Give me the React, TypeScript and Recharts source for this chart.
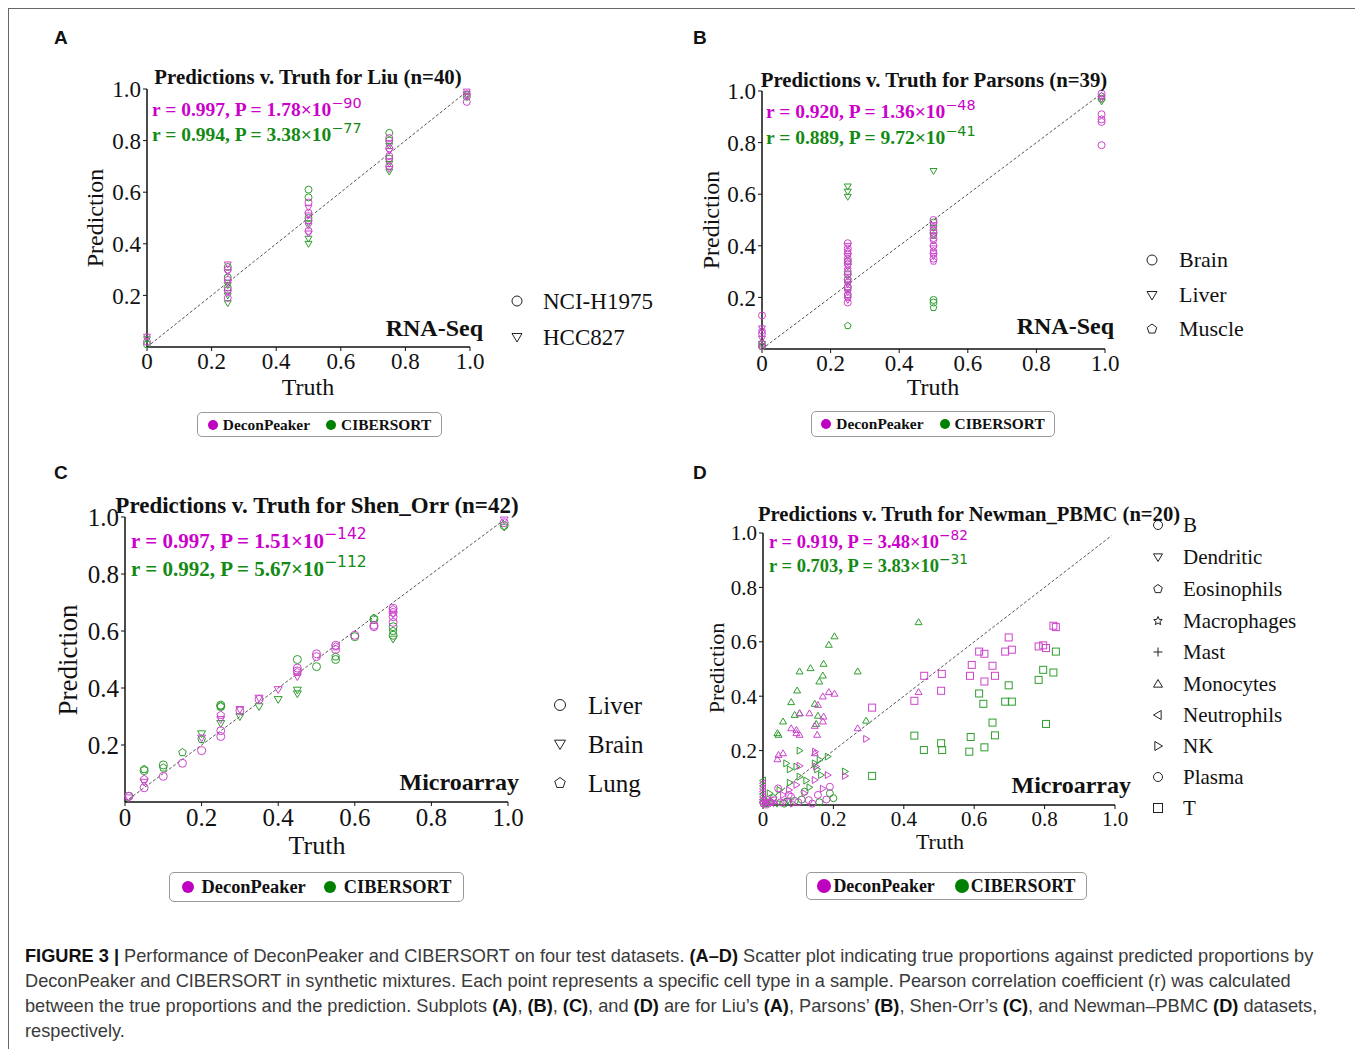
import React from "react";
import { ScatterChart, Scatter, XAxis, YAxis, ReferenceLine } from "recharts";

type Pt = [number, number];
type Kind = "circle" | "triDown" | "triUp" | "triLeft" | "triRight" | "pentagon" | "star" | "plus" | "square";

const MAGENTA = "#cc44cc";
const GREEN = "#2e9e2e";
const SERIF = "'Liberation Serif', 'Times New Roman', serif";

// ---- Panel A: Liu (truth, prediction) ----
const liuDeconNCI: Pt[] = [[0, 0.02], [0.25, 0.19], [0.25, 0.22], [0.25, 0.26], [0.25, 0.3], [0.5, 0.45], [0.5, 0.49], [0.5, 0.52], [0.5, 0.56], [0.75, 0.7], [0.75, 0.74], [0.75, 0.77], [0.75, 0.81], [0.99, 0.95], [0.99, 0.98]];
const liuDeconHCC: Pt[] = [[0, 0.04], [0.25, 0.21], [0.25, 0.25], [0.25, 0.29], [0.25, 0.32], [0.5, 0.44], [0.5, 0.47], [0.5, 0.51], [0.5, 0.54], [0.75, 0.69], [0.75, 0.72], [0.75, 0.76], [0.75, 0.79], [0.99, 0.97], [0.99, 0.99]];
const liuCiberNCI: Pt[] = [[0, 0.01], [0.25, 0.23], [0.25, 0.27], [0.25, 0.31], [0.5, 0.5], [0.5, 0.58], [0.5, 0.61], [0.75, 0.73], [0.75, 0.8], [0.75, 0.83], [0.99, 0.97]];
const liuCiberHCC: Pt[] = [[0, 0.03], [0.25, 0.17], [0.25, 0.2], [0.25, 0.24], [0.5, 0.4], [0.5, 0.42], [0.5, 0.48], [0.75, 0.68], [0.75, 0.71], [0.75, 0.78], [0.99, 0.98]];

// ---- Panel B: Parsons ----
const parsonsDeconBrain: Pt[] = [[0, 0.13], [0, 0.06], [0, 0.02], [0.25, 0.41], [0.25, 0.39], [0.25, 0.37], [0.25, 0.35], [0.25, 0.33], [0.25, 0.3], [0.25, 0.27], [0.25, 0.24], [0.25, 0.21], [0.25, 0.18], [0.5, 0.5], [0.5, 0.46], [0.5, 0.43], [0.5, 0.4], [0.5, 0.37], [0.5, 0.35], [0.99, 0.99], [0.99, 0.91], [0.99, 0.89], [0.99, 0.88], [0.99, 0.79]];
const parsonsDeconLiver: Pt[] = [[0, 0.08], [0, 0.04], [0.25, 0.4], [0.25, 0.36], [0.25, 0.32], [0.25, 0.28], [0.25, 0.25], [0.25, 0.22], [0.25, 0.19], [0.5, 0.48], [0.5, 0.44], [0.5, 0.39], [0.5, 0.36], [0.99, 0.97]];
const parsonsDeconMuscle: Pt[] = [[0, 0.07], [0, 0.01], [0.25, 0.38], [0.25, 0.34], [0.25, 0.31], [0.25, 0.26], [0.25, 0.23], [0.25, 0.2], [0.5, 0.47], [0.5, 0.42], [0.5, 0.38], [0.5, 0.34], [0.99, 0.98]];
const parsonsCiberBrain: Pt[] = [[0, 0.01], [0.25, 0.34], [0.25, 0.29], [0.25, 0.24], [0.5, 0.49], [0.5, 0.45], [0.5, 0.19], [0.5, 0.18], [0.99, 0.97]];
const parsonsCiberLiver: Pt[] = [[0, 0.02], [0.25, 0.63], [0.25, 0.61], [0.25, 0.59], [0.5, 0.69], [0.5, 0.47], [0.99, 0.96]];
const parsonsCiberMuscle: Pt[] = [[0, 0.01], [0.25, 0.09], [0.25, 0.27], [0.25, 0.21], [0.5, 0.44], [0.5, 0.16], [0.99, 0.98]];

// ---- Panel C: Shen_Orr ----
const shenDeconLiver: Pt[] = [[0.01, 0.02], [0.05, 0.05], [0.1, 0.09], [0.15, 0.136], [0.2, 0.18], [0.25, 0.23], [0.25, 0.25], [0.3, 0.32], [0.35, 0.36], [0.45, 0.47], [0.45, 0.46], [0.5, 0.52], [0.5, 0.51], [0.55, 0.55], [0.55, 0.535], [0.6, 0.585], [0.65, 0.62], [0.65, 0.615], [0.7, 0.68], [0.7, 0.665], [0.7, 0.65], [0.7, 0.63], [0.99, 0.98]];
const shenDeconBrain: Pt[] = [[0.01, 0.015], [0.05, 0.07], [0.2, 0.225], [0.25, 0.29], [0.3, 0.325], [0.35, 0.365], [0.4, 0.395], [0.45, 0.44], [0.7, 0.66], [0.99, 0.99]];
const shenDeconLung: Pt[] = [[0.05, 0.08], [0.25, 0.305], [0.45, 0.455], [0.55, 0.545], [0.7, 0.675]];
const shenCiberLiver: Pt[] = [[0.01, 0.02], [0.05, 0.11], [0.1, 0.13], [0.25, 0.34], [0.25, 0.335], [0.45, 0.5], [0.5, 0.475], [0.55, 0.5], [0.6, 0.58], [0.65, 0.64], [0.7, 0.615], [0.7, 0.585], [0.99, 0.97]];
const shenCiberBrain: Pt[] = [[0.2, 0.24], [0.25, 0.276], [0.3, 0.3], [0.35, 0.335], [0.4, 0.36], [0.45, 0.393], [0.45, 0.38], [0.7, 0.572], [0.99, 0.965]];
const shenCiberLung: Pt[] = [[0.05, 0.115], [0.1, 0.12], [0.15, 0.174], [0.2, 0.22], [0.25, 0.335], [0.55, 0.51], [0.65, 0.645], [0.7, 0.6]];

// ---- Panel D: Newman_PBMC ----
const newmanDeconT: Pt[] = [[0.31, 0.358], [0.43, 0.383], [0.458, 0.475], [0.508, 0.482], [0.506, 0.42], [0.588, 0.475], [0.593, 0.515], [0.614, 0.564], [0.629, 0.454], [0.629, 0.556], [0.652, 0.512], [0.659, 0.475], [0.688, 0.564], [0.698, 0.616], [0.707, 0.571], [0.783, 0.583], [0.796, 0.587], [0.804, 0.577], [0.825, 0.659], [0.832, 0.654]];
const newmanCiberT: Pt[] = [[0.31, 0.107], [0.43, 0.255], [0.457, 0.202], [0.506, 0.227], [0.509, 0.202], [0.586, 0.196], [0.59, 0.25], [0.614, 0.41], [0.626, 0.372], [0.629, 0.212], [0.652, 0.303], [0.659, 0.256], [0.698, 0.44], [0.688, 0.38], [0.707, 0.38], [0.783, 0.46], [0.796, 0.497], [0.804, 0.298], [0.825, 0.487], [0.832, 0.564]];
const newmanDeconMono: Pt[] = [[0.442, 0.415], [0.269, 0.282], [0.203, 0.409], [0.187, 0.415], [0.17, 0.399], [0.172, 0.325], [0.17, 0.307], [0.156, 0.368], [0.147, 0.291], [0.154, 0.258], [0.132, 0.337], [0.104, 0.337], [0.104, 0.258], [0.095, 0.276], [0.08, 0.282], [0.057, 0.19], [0.044, 0.184], [0.041, 0.168], [0.147, 0.19], [0.095, 0.264]];
const newmanCiberMono: Pt[] = [[0.442, 0.672], [0.203, 0.62], [0.187, 0.589], [0.172, 0.519], [0.17, 0.476], [0.16, 0.454], [0.156, 0.328], [0.147, 0.372], [0.135, 0.503], [0.104, 0.491], [0.097, 0.421], [0.08, 0.378], [0.09, 0.331], [0.104, 0.337], [0.057, 0.307], [0.041, 0.264], [0.044, 0.258], [0.269, 0.491], [0.293, 0.31], [0.151, 0.298]];
const newmanDeconNK: Pt[] = [[0.293, 0.243], [0.233, 0.107], [0.184, 0.11], [0.147, 0.092], [0.104, 0.144], [0.095, 0.074], [0.074, 0.055], [0.057, 0.037], [0.118, 0.043], [0.151, 0.141], [0.03, 0.01], [0.085, 0.005], [0.148, 0.196], [0.17, 0.06]];
const newmanCiberNK: Pt[] = [[0.104, 0.2], [0.066, 0.153], [0.076, 0.131], [0.095, 0.141], [0.147, 0.153], [0.154, 0.131], [0.184, 0.178], [0.233, 0.123], [0.165, 0.11], [0.123, 0.09], [0.076, 0.082], [0.132, 0.065], [0.047, 0.055], [0.019, 0.043], [0.161, 0.166], [0.104, 0.104]];
const newmanDeconB: Pt[] = [[0.043, 0.061], [0.19, 0.067], [0.156, 0.037], [0.073, 0.037], [0.13, 0.018], [0.02, 0.01], [0.1, 0.01], [0.18, 0.02]];
const newmanCiberB: Pt[] = [[0.118, 0.049], [0.19, 0.043], [0.2, 0.025], [0.029, 0.025], [0.16, 0.01], [0.09, 0.015]];
const newmanDeconPlasma: Pt[] = [[0.01, 0.02], [0.05, 0.01], [0.08, 0.03], [0.14, 0.005]];
const newmanCiberPlasma: Pt[] = [[0.02, 0.01], [0.06, 0.005], [0.11, 0.02]];
const newmanDeconNeut: Pt[] = [[0, 0.08], [0, 0.06], [0, 0.05], [0, 0.03], [0, 0.02], [0, 0.01]];
const newmanCiberNeut: Pt[] = [[0, 0.09], [0, 0.07], [0, 0.04], [0, 0.02]];
const newmanDeconEos: Pt[] = [[0, 0.005], [0.01, 0], [0.02, 0.01]];
const newmanCiberEos: Pt[] = [[0, 0.01], [0.01, 0.005]];
const newmanDeconMast: Pt[] = [[0.01, 0.01], [0.03, 0.005]];
const newmanCiberMast: Pt[] = [[0.02, 0.005]];
const newmanDeconMacro: Pt[] = [[0.005, 0.01]];
const newmanCiberMacro: Pt[] = [[0.01, 0.015]];
const newmanDeconDend: Pt[] = [[0.03, 0.02], [0.06, 0.01]];
const newmanCiberDend: Pt[] = [[0.04, 0.005], [0.07, 0.015]];

const ticksFull = [0, 0.2, 0.4, 0.6, 0.8, 1.0];
const ticksNoZero = [0.2, 0.4, 0.6, 0.8, 1.0];

const liuLegend: [Kind, string][] = [["circle", "NCI-H1975"], ["triDown", "HCC827"]];
const parsonsLegend: [Kind, string][] = [["circle", "Brain"], ["triDown", "Liver"], ["pentagon", "Muscle"]];
const shenLegend: [Kind, string][] = [["circle", "Liver"], ["triDown", "Brain"], ["pentagon", "Lung"]];
const newmanLegend: [Kind, string][] = [["circle", "B"], ["triDown", "Dendritic"], ["pentagon", "Eosinophils"], ["star", "Macrophages"], ["plus", "Mast"], ["triUp", "Monocytes"], ["triLeft", "Neutrophils"], ["triRight", "NK"], ["circle", "Plasma"], ["square", "T"]];

type Series = { data: Pt[]; color: string; kind: Kind };

function Marker({ cx, cy, kind, color, s }: { cx: number; cy: number; kind: Kind; color: string; s: number }) {
  const common = { fill: "none", stroke: color, strokeWidth: 1 };
  if (cx == null || cy == null) return null;
  if (kind === "circle") return <circle cx={cx} cy={cy} r={s} {...common} />;
  if (kind === "square") return <rect x={cx - s} y={cy - s} width={2 * s} height={2 * s} {...common} />;
  if (kind === "plus") return <path d={`M${cx - s},${cy}H${cx + s}M${cx},${cy - s}V${cy + s}`} {...common} />;
  let pts: number[][] = [];
  if (kind === "triDown") pts = [[cx - s, cy - s * 0.7], [cx + s, cy - s * 0.7], [cx, cy + s]];
  if (kind === "triUp") pts = [[cx - s, cy + s * 0.7], [cx + s, cy + s * 0.7], [cx, cy - s]];
  if (kind === "triLeft") pts = [[cx + s * 0.7, cy - s], [cx + s * 0.7, cy + s], [cx - s, cy]];
  if (kind === "triRight") pts = [[cx - s * 0.7, cy - s], [cx - s * 0.7, cy + s], [cx + s, cy]];
  if (kind === "pentagon") pts = [0, 1, 2, 3, 4].map((k) => { const a = (-90 + k * 72) * Math.PI / 180; return [cx + s * Math.cos(a), cy + s * Math.sin(a)]; });
  if (kind === "star") pts = Array.from({ length: 10 }, (_, k) => { const a = (-90 + k * 36) * Math.PI / 180; const r = k % 2 ? s * 0.45 : s; return [cx + r * Math.cos(a), cy + r * Math.sin(a)]; });
  return <polygon points={pts.map((p) => p.join(",")).join(" ")} {...common} />;
}

const fmt = (v: number) => (v === 0 ? "0" : v.toFixed(1));

function Panel({ box, xTicks, yTicks, font, series, diag, ms }: { box: number[]; xTicks: number[]; yTicks: number[]; font: number; series: Series[]; diag: number; ms: number }) {
  const [x0, y0, x1, y1] = box;
  const tick = { fontSize: font, fill: "#111", fontFamily: SERIF };
  return (
    <div style={{ position: "absolute", left: x0 - 80, top: y0 - 20 }}>
      <ScatterChart width={x1 - x0 + 100} height={y1 - y0 + 70} margin={{ top: 20, right: 20, left: 10, bottom: 10 }}>
        <XAxis type="number" dataKey="x" domain={[0, 1]} ticks={xTicks} interval={0} tickFormatter={fmt} height={40}
          axisLine={{ stroke: "#111", strokeWidth: 1.5 }} tickLine={{ stroke: "#111" }} tickSize={4} tickMargin={2} tick={tick} />
        <YAxis type="number" dataKey="y" domain={[0, 1]} ticks={yTicks} interval={0} tickFormatter={fmt} width={70}
          axisLine={{ stroke: "#111", strokeWidth: 1.5 }} tickLine={{ stroke: "#111" }} tickSize={4} tickMargin={2} tick={tick} />
        <ReferenceLine segment={[{ x: 0, y: 0 }, { x: diag, y: diag }]} stroke="#555" strokeDasharray="3 2" strokeWidth={1} />
        {series.map((s, i) => (
          <Scatter key={i} data={s.data.map(([x, y]) => ({ x, y }))} isAnimationActive={false}
            shape={(p: any) => <Marker cx={p.cx} cy={p.cy} kind={s.kind} color={s.color} s={ms} />} />
        ))}
      </ScatterChart>
    </div>
  );
}

function Txt({ x, y, size, bold, color = "#111", anchor = "start", rotate, family = SERIF, children }: any) {
  const tx = anchor === "middle" ? "-50%" : anchor === "end" ? "-100%" : "0";
  return (
    <div style={{ position: "absolute", left: x, top: y, transform: `translate(${tx}, -50%)${rotate ? ` rotate(${rotate}deg)` : ""}`,
      fontSize: size, fontWeight: bold ? 700 : 400, color, fontFamily: family, whiteSpace: "nowrap", lineHeight: 1 }}>
      {children}
    </div>
  );
}

function Stat({ x, y, size, color, r, p, e }: any) {
  return (
    <Txt x={x} y={y} size={size} bold color={color}>
      r = {r}, P = {p}×10<span style={{ fontSize: "0.74em", fontWeight: 400, fontFamily: "'DejaVu Sans', sans-serif", position: "relative", top: "-0.55em" }}>−{e}</span>
    </Txt>
  );
}

function ShapeLegend({ x, tx, ys, items, size, s }: { x: number; tx: number; ys: number[]; items: [Kind, string][]; size: number; s: number }) {
  return (
    <>
      {items.map(([k, label], i) => (
        <React.Fragment key={i}>
          <svg style={{ position: "absolute", left: x - 8, top: ys[i] - 8 }} width={16} height={16}>
            <Marker cx={8} cy={8} kind={k} color="#222" s={s} />
          </svg>
          <Txt x={tx} y={ys[i]} size={size}>{label}</Txt>
        </React.Fragment>
      ))}
    </>
  );
}

function MethodBox({ left, top, w, h, size, r, gap, between }: any) {
  const item = (c: string, label: string) => (
    <span style={{ display: "flex", alignItems: "center" }}>
      <span style={{ width: 2 * r, height: 2 * r, borderRadius: r, background: c, marginRight: gap }} />
      {label}
    </span>
  );
  return (
    <div style={{ position: "absolute", left, top, width: w, height: h, boxSizing: "border-box", border: "1px solid #999", borderRadius: 5,
      display: "flex", alignItems: "center", justifyContent: "center", gap: between, fontFamily: SERIF, fontWeight: 700, fontSize: size, color: "#111" }}>
      {item("#c000c0", "DeconPeaker")}
      {item("#008000", "CIBERSORT")}
    </div>
  );
}

const B = ({ children }: any) => <b style={{ color: "#111" }}>{children}</b>;

export default function App() {
  const capStyle: React.CSSProperties = { position: "absolute", left: 25, whiteSpace: "nowrap", fontSize: 18.2, color: "#3a3a3a", lineHeight: 1,
    fontFamily: "'Liberation Sans Narrow', 'Liberation Sans', sans-serif", transform: "translateY(-50%)" };
  return (
    <div style={{ position: "relative", width: 1355, height: 1049, overflow: "hidden", background: "#fff", fontFamily: SERIF }}>
      <style>{`body{margin:0;overflow:hidden}`}</style>
      <div style={{ position: "absolute", left: 8, top: 8, width: 1400, height: 1100, border: "1px solid #666" }} />

      {["A", "B", "C", "D"].map((l, i) => (
        <Txt key={l} x={i % 2 ? 693 : 54} y={i < 2 ? 37 : 472} size={19} bold family="'Liberation Sans', Arial, sans-serif">{l}</Txt>
      ))}

      {/* Panel A */}
      <Panel box={[147, 89, 470, 347]} xTicks={ticksFull} yTicks={ticksNoZero} font={23} diag={0.99} ms={3.5}
        series={[{ data: liuCiberNCI, color: GREEN, kind: "circle" }, { data: liuCiberHCC, color: GREEN, kind: "triDown" },
          { data: liuDeconNCI, color: MAGENTA, kind: "circle" }, { data: liuDeconHCC, color: MAGENTA, kind: "triDown" }]} />
      <Txt x={308} y={77} size={20.8} bold anchor="middle">Predictions v. Truth for Liu (n=40)</Txt>
      <Stat x={152} y={110} size={19.5} color="#cc00cc" r="0.997" p="1.78" e="90" />
      <Stat x={152} y={135} size={19.5} color="#138a13" r="0.994" p="3.38" e="77" />
      <Txt x={483} y={328} size={24} bold anchor="end">RNA-Seq</Txt>
      <Txt x={95} y={218} size={24} anchor="middle" rotate={-90}>Prediction</Txt>
      <Txt x={308} y={387} size={24} anchor="middle">Truth</Txt>
      <ShapeLegend x={517} tx={543} ys={[301, 337]} items={liuLegend} size={23} s={5} />
      <MethodBox left={197} top={412} w={245} h={25} size={15.4} r={5} gap={5} between={16} />

      {/* Panel B */}
      <Panel box={[762, 91, 1105, 349]} xTicks={ticksFull} yTicks={ticksNoZero} font={23} diag={0.99} ms={3.5}
        series={[{ data: parsonsCiberBrain, color: GREEN, kind: "circle" }, { data: parsonsCiberLiver, color: GREEN, kind: "triDown" },
          { data: parsonsCiberMuscle, color: GREEN, kind: "pentagon" }, { data: parsonsDeconBrain, color: MAGENTA, kind: "circle" },
          { data: parsonsDeconLiver, color: MAGENTA, kind: "triDown" }, { data: parsonsDeconMuscle, color: MAGENTA, kind: "pentagon" }]} />
      <Txt x={934} y={80} size={20.8} bold anchor="middle">Predictions v. Truth for Parsons (n=39)</Txt>
      <Stat x={766} y={112} size={19.5} color="#cc00cc" r="0.920" p="1.36" e="48" />
      <Stat x={766} y={138} size={19.5} color="#138a13" r="0.889" p="9.72" e="41" />
      <Txt x={1114} y={326} size={24} bold anchor="end">RNA-Seq</Txt>
      <Txt x={711} y={220} size={24} anchor="middle" rotate={-90}>Prediction</Txt>
      <Txt x={933} y={387} size={24} anchor="middle">Truth</Txt>
      <ShapeLegend x={1152} tx={1179} ys={[260, 295, 329]} items={parsonsLegend} size={22} s={5} />
      <MethodBox left={811} top={411} w={244} h={26} size={15.4} r={5} gap={5} between={16} />

      {/* Panel C */}
      <Panel box={[125, 517, 508, 802]} xTicks={ticksFull} yTicks={ticksNoZero} font={25} diag={0.99} ms={4}
        series={[{ data: shenCiberLiver, color: GREEN, kind: "circle" }, { data: shenCiberBrain, color: GREEN, kind: "triDown" },
          { data: shenCiberLung, color: GREEN, kind: "pentagon" }, { data: shenDeconLiver, color: MAGENTA, kind: "circle" },
          { data: shenDeconBrain, color: MAGENTA, kind: "triDown" }, { data: shenDeconLung, color: MAGENTA, kind: "pentagon" }]} />
      <Txt x={317} y={505} size={23} bold anchor="middle">Predictions v. Truth for Shen_Orr (n=42)</Txt>
      <Stat x={131} y={541} size={21} color="#cc00cc" r="0.997" p="1.51" e="142" />
      <Stat x={131} y={569} size={21} color="#138a13" r="0.992" p="5.67" e="112" />
      <Txt x={519} y={782} size={24} bold anchor="end">Microarray</Txt>
      <Txt x={68} y={660} size={27} anchor="middle" rotate={-90}>Prediction</Txt>
      <Txt x={317} y={846} size={26} anchor="middle">Truth</Txt>
      <ShapeLegend x={560} tx={588} ys={[705, 744, 783]} items={shenLegend} size={25} s={5.5} />
      <MethodBox left={169} top={872} w={295} h={30} size={18.4} r={6} gap={8} between={18} />

      {/* Panel D */}
      <Panel box={[763, 533, 1115, 805]} xTicks={ticksFull} yTicks={ticksNoZero} font={21} diag={0.99} ms={3.5}
        series={[{ data: newmanCiberT, color: GREEN, kind: "square" }, { data: newmanCiberMono, color: GREEN, kind: "triUp" },
          { data: newmanCiberNK, color: GREEN, kind: "triRight" }, { data: newmanCiberB, color: GREEN, kind: "circle" },
          { data: newmanCiberPlasma, color: GREEN, kind: "circle" }, { data: newmanCiberNeut, color: GREEN, kind: "triLeft" },
          { data: newmanCiberEos, color: GREEN, kind: "pentagon" }, { data: newmanCiberMast, color: GREEN, kind: "plus" },
          { data: newmanCiberMacro, color: GREEN, kind: "star" }, { data: newmanCiberDend, color: GREEN, kind: "triDown" },
          { data: newmanDeconT, color: MAGENTA, kind: "square" }, { data: newmanDeconMono, color: MAGENTA, kind: "triUp" },
          { data: newmanDeconNK, color: MAGENTA, kind: "triRight" }, { data: newmanDeconB, color: MAGENTA, kind: "circle" },
          { data: newmanDeconPlasma, color: MAGENTA, kind: "circle" }, { data: newmanDeconNeut, color: MAGENTA, kind: "triLeft" },
          { data: newmanDeconEos, color: MAGENTA, kind: "pentagon" }, { data: newmanDeconMast, color: MAGENTA, kind: "plus" },
          { data: newmanDeconMacro, color: MAGENTA, kind: "star" }, { data: newmanDeconDend, color: MAGENTA, kind: "triDown" }]} />
      <Txt x={969} y={514} size={20.6} bold anchor="middle">Predictions v. Truth for Newman_PBMC (n=20)</Txt>
      <Stat x={769} y={542} size={18.5} color="#cc00cc" r="0.919" p="3.48" e="82" />
      <Stat x={769} y={566} size={18.5} color="#138a13" r="0.703" p="3.83" e="31" />
      <Txt x={1131} y={785} size={24} bold anchor="end">Microarray</Txt>
      <Txt x={717} y={668} size={22} anchor="middle" rotate={-90}>Prediction</Txt>
      <Txt x={940} y={842} size={22} anchor="middle">Truth</Txt>
      <ShapeLegend x={1158} tx={1183} ys={[525, 557, 589, 621, 652, 684, 715, 746, 777, 808]} items={newmanLegend} size={21} s={4.5} />
      <MethodBox left={806} top={872} w={281} h={28} size={17.9} r={7} gap={2} between={20} />

      {/* Caption */}
      <div style={{ ...capStyle, top: 956 }}><B>FIGURE 3 |</B> Performance of DeconPeaker and CIBERSORT on four test datasets. <B>(A–D)</B> Scatter plot indicating true proportions against predicted proportions by</div>
      <div style={{ ...capStyle, top: 981 }}>DeconPeaker and CIBERSORT in synthetic mixtures. Each point represents a specific cell type in a sample. Pearson correlation coefficient (r) was calculated</div>
      <div style={{ ...capStyle, top: 1006 }}>between the true proportions and the prediction. Subplots <B>(A)</B>, <B>(B)</B>, <B>(C)</B>, and <B>(D)</B> are for Liu’s <B>(A)</B>, Parsons’ <B>(B)</B>, Shen-Orr’s <B>(C)</B>, and Newman–PBMC <B>(D)</B> datasets,</div>
      <div style={{ ...capStyle, top: 1031 }}>respectively.</div>
    </div>
  );
}
